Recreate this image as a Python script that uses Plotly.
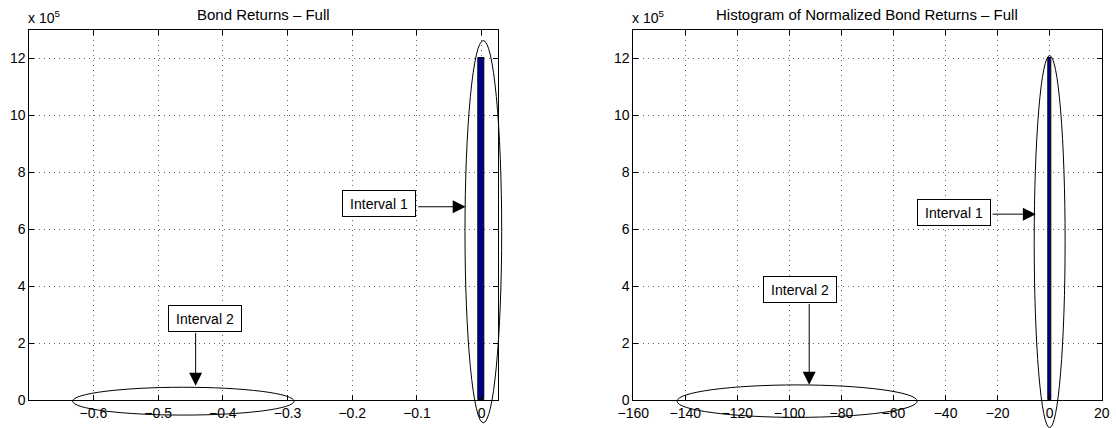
import plotly.graph_objects as go

# ---------------- data ----------------
# Left panel: histogram of bond returns (visible bin near 0)
ret_bin_centers = [0.0]
ret_bin_counts = [1.2e6]
ret_bin_width = 0.0093

# Right panel: histogram of normalized bond returns
norm_bin_centers = [0.0]
norm_bin_counts = [1.2e6]
norm_bin_width = 1.3

left_xticks = [-0.6, -0.5, -0.4, -0.3, -0.2, -0.1, 0]
right_xticks = [-160, -140, -120, -100, -80, -60, -40, -20, 0, 20]
y_tickvals = [0, 2e5, 4e5, 6e5, 8e5, 10e5, 12e5]
y_ticktext = ["0", "2", "4", "6", "8", "10", "12"]

left_title = "Bond Returns – Full"
right_title = "Histogram of Normalized Bond Returns – Full"

# ellipses: (x0, x1, y0, y1) in data units
left_ellipses = [(-0.0258, 0.0309, -0.80e5, 12.63e5), (-0.632, -0.290, -0.53e5, 0.448e5)]
right_ellipses = [(-5.94, 5.94, -0.97e5, 12.1e5), (-143.2, -50.9, -0.61e5, 0.53e5)]

# labels: (text, box center x, box center y)
left_labels = [("Interval 1", -0.158, 6.92e5), ("Interval 2", -0.428, 2.87e5)]
right_labels = [("Interval 1", -36.8, 6.59e5), ("Interval 2", -96.1, 3.9e5)]
# arrows: (tail x, tail y, head x, head y)
left_arrows = [(-0.1004, 6.79e5, -0.0247, 6.79e5), (-0.442, 2.41e5, -0.442, 0.50e5)]
right_arrows = [(-22.5, 6.53e5, -5.3, 6.53e5), (-92.4, 3.43e5, -92.4, 0.54e5)]

# ---------------- layout geometry ----------------
W, H = 1116, 428
left_dom = [29.3 / W, 498.0 / W]
right_dom = [633.3 / W, 1101.7 / W]
y_dom = [(H - 400.0) / H, (H - 30.0) / H]
left_range = [-0.699, 0.0252]
right_range = [-160, 20]
y_range = [0, 13e5]

FONT = "Liberation Sans, Arial, Helvetica, sans-serif"
BAR_COLOR = "rgb(0,0,143)"


def extend(rng, dom):
    s = (rng[1] - rng[0]) / (dom[1] - dom[0])
    return [rng[0] - dom[0] * s, rng[1] + (1 - dom[1]) * s]


fig = go.Figure()
fig.add_trace(go.Bar(x=ret_bin_centers, y=ret_bin_counts, width=ret_bin_width,
                     marker=dict(color=BAR_COLOR, line=dict(color="black", width=1)),
                     xaxis="x", yaxis="y", showlegend=False))
fig.add_trace(go.Bar(x=norm_bin_centers, y=norm_bin_counts, width=norm_bin_width,
                     marker=dict(color=BAR_COLOR, line=dict(color="black", width=1)),
                     xaxis="x2", yaxis="y2", showlegend=False))

axis_common = dict(showline=True, linecolor="black", linewidth=1, mirror="ticks",
                   ticks="inside", ticklen=5, tickcolor="black", tickwidth=1, automargin=False,
                   showgrid=True, gridcolor="rgba(0,0,0,0.6)", gridwidth=1, griddash="1px,4px",
                   zeroline=False, tickfont=dict(family=FONT, size=14, color="black"))
hidden = dict(visible=False, automargin=False, showgrid=False, zeroline=False)

fig.update_layout(
    width=W, height=H, margin=dict(l=0, r=0, t=0, b=0, autoexpand=False),
    paper_bgcolor="white", plot_bgcolor="rgba(0,0,0,0)", showlegend=False, bargap=0,
    xaxis=dict(domain=left_dom, range=left_range, anchor="y", tickmode="array",
               tickvals=left_xticks, **axis_common),
    yaxis=dict(domain=y_dom, range=y_range, anchor="x", tickmode="array",
               tickvals=y_tickvals, ticktext=y_ticktext, **axis_common),
    xaxis2=dict(domain=right_dom, range=right_range, anchor="y2", tickmode="array",
                tickvals=right_xticks, **axis_common),
    yaxis2=dict(domain=y_dom, range=y_range, anchor="x2", tickmode="array",
                tickvals=y_tickvals, ticktext=y_ticktext, **axis_common),
    # invisible full-page overlay axes with the same scales (so ellipses are not clipped)
    xaxis3=dict(domain=[0, 1], range=extend(left_range, left_dom), anchor="y3", **hidden),
    yaxis3=dict(domain=[0, 1], range=extend(y_range, y_dom), anchor="x3", **hidden),
    xaxis4=dict(domain=[0, 1], range=extend(right_range, right_dom), anchor="y4", **hidden),
    yaxis4=dict(domain=[0, 1], range=extend(y_range, y_dom), anchor="x4", **hidden),
)
# dummy invisible traces so overlay subplots exist
fig.add_trace(go.Scatter(x=[None], y=[None], xaxis="x3", yaxis="y3", showlegend=False, hoverinfo="skip"))
fig.add_trace(go.Scatter(x=[None], y=[None], xaxis="x4", yaxis="y4", showlegend=False, hoverinfo="skip"))

for (x0, x1, y0, y1) in left_ellipses:
    fig.add_shape(type="circle", xref="x3", yref="y3", x0=x0, x1=x1, y0=y0, y1=y1,
                  line=dict(color="black", width=1), layer="above")
for (x0, x1, y0, y1) in right_ellipses:
    fig.add_shape(type="circle", xref="x4", yref="y4", x0=x0, x1=x1, y0=y0, y1=y1,
                  line=dict(color="black", width=1), layer="above")

box_style = dict(showarrow=False, bgcolor="white", bordercolor="black", borderwidth=1,
                 borderpad=4, width=64, height=17,
                 font=dict(family=FONT, size=14, color="black"))
for (t, x, y) in left_labels:
    fig.add_annotation(text=t, x=x, y=y, xref="x", yref="y", **box_style)
for (t, x, y) in right_labels:
    fig.add_annotation(text=t, x=x, y=y, xref="x2", yref="y2", **box_style)

arrow_style = dict(text="", showarrow=True, arrowhead=2, arrowsize=2.6, arrowwidth=1,
                   arrowcolor="black", standoff=0)
for (tx, ty, hx, hy) in left_arrows:
    fig.add_annotation(x=hx, y=hy, ax=tx, ay=ty, xref="x", yref="y", axref="x", ayref="y", **arrow_style)
for (tx, ty, hx, hy) in right_arrows:
    fig.add_annotation(x=hx, y=hy, ax=tx, ay=ty, xref="x2", yref="y2", axref="x2", ayref="y2", **arrow_style)

# titles
for title, dom in ((left_title, left_dom), (right_title, right_dom)):
    fig.add_annotation(text=title, x=(dom[0] + dom[1]) / 2, y=y_dom[1], xref="paper", yref="paper",
                       xanchor="center", yanchor="bottom", yshift=5, showarrow=False,
                       font=dict(family=FONT, size=15, color="black"))
    fig.add_annotation(text="x 10<sup>5</sup>", x=dom[0], y=y_dom[1], xref="paper", yref="paper",
                       xanchor="left", yanchor="bottom", yshift=2, xshift=-3, showarrow=False,
                       font=dict(family=FONT, size=14, color="black"))

fig.write_html("out.html", config={"displayModeBar": False},
               post_script="document.body.style.margin='0px';")
